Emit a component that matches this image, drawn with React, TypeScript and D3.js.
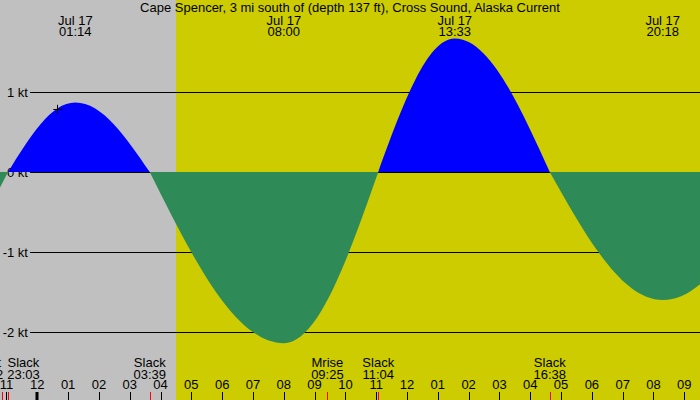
import React from "react";
import * as d3 from "d3";

const WIDTH = 700;
const HEIGHT = 400;
const FONT = "'Liberation Sans', Arial, sans-serif";

const title = "Cape Spencer, 3 mi south of (depth 137 ft), Cross Sound, Alaska Current";
const dateLabel = "Jul 17";

// Maximum flood (+) / ebb (-) currents, Jul 17
const maxTimes = ["01:14", "08:00", "13:33", "20:18"];
const maxKnots = [0.87, -2.14, 1.67, -1.6];

// Slack water times (day offset relative to Jul 17)
const slackTimes = ["23:03", "03:39", "11:04", "16:38"];
const slackDays = [-1, 0, 0, 0];

// Current at the window edges (hours from Jul 17 00:00)
const edgeHours = [-1.22, 24.08];
const edgeKnots = [-0.2, 0];

// Bottom event labels
const eventNames = ["Mset", "Slack", "Slack", "Mrise", "Slack", "Slack"];
const eventTimes = ["22:52", "23:03", "03:39", "09:25", "11:04", "16:38"];
const eventDays = [-1, -1, 0, 0, 0, 0];

const speedTicks = [1, 0, -1, -2];
const hourTicks = d3.range(-1, 22);
const sunriseTime = "04:30";
const markerTime = "00:39";
const markerKnots = 0.79;

const toHours = (s: string, day = 0) => {
  const [h, m] = s.split(":").map(Number);
  return h + m / 60 + day * 24;
};

const x = d3.scaleLinear().domain([0, 21]).range([37.3, 684.3]);
const y = d3.scaleLinear().domain([1, -2]).range([92, 332]);
const zeroY = y(0);

// Tidal-current curve: quarter-sine segments between slack and maximum,
// straight segment from the clipped window edge.
class TideCurve {
  _context: any;
  _line = 0;
  _point = 0;
  _x = 0;
  _y = 0;
  constructor(context: any) {
    this._context = context;
  }
  areaStart() {
    this._line = 0;
  }
  areaEnd() {
    this._line = NaN;
  }
  lineStart() {
    this._point = 0;
  }
  lineEnd() {
    if (this._line || (this._line !== 0 && this._point === 1)) this._context.closePath();
    this._line = 1 - this._line;
  }
  point(px: number, py: number) {
    px = +px;
    py = +py;
    if (this._point === 0) {
      this._point = 1;
      if (this._line) this._context.lineTo(px, py);
      else this._context.moveTo(px, py);
    } else {
      const x0 = this._x, y0 = this._y;
      const dx = px - x0, dy = py - y0;
      const startSlack = Math.abs(y0 - zeroY) < 0.01;
      const endSlack = Math.abs(py - zeroY) < 0.01;
      const fromEdge = this._point === 1;
      if (startSlack && !endSlack) {
        this._context.bezierCurveTo(x0 + 0.3261 * dx, y0 + 0.5123 * dy, x0 + 0.6381 * dx, py, px, py);
      } else if (!startSlack && endSlack && !fromEdge) {
        this._context.bezierCurveTo(x0 + 0.3619 * dx, y0, x0 + 0.6739 * dx, y0 + 0.4877 * dy, px, py);
      } else {
        this._context.lineTo(px, py);
      }
      this._point = 2;
    }
    this._x = px;
    this._y = py;
  }
}
const curveTide = (context: any) => new TideCurve(context);

type Pt = { h: number; v: number };
const points: Pt[] = [
  ...edgeHours.map((h, i) => ({ h, v: edgeKnots[i] })),
  ...slackTimes.map((t, i) => ({ h: toHours(t, slackDays[i]), v: 0 })),
  ...maxTimes.map((t, i) => ({ h: toHours(t), v: maxKnots[i] })),
].sort((a, b) => a.h - b.h);

const area = d3
  .area<Pt>()
  .x((d) => x(d.h))
  .y0(zeroY)
  .y1((d) => y(d.v))
  .curve(curveTide as any);

// Text measurement for the event label layout
const ctx = typeof document !== "undefined" ? document.createElement("canvas").getContext("2d") : null;
const textWidth = (s: string) => {
  if (!ctx) return s.length * 7;
  ctx.font = `13px ${FONT}`;
  return ctx.measureText(s).width;
};

const eventLayout = (() => {
  const items = eventNames.map((name, i) => {
    const h = toHours(eventTimes[i], eventDays[i]);
    const w = Math.max(textWidth(name), textWidth(eventTimes[i]));
    return { name, time: eventTimes[i], tick: x(h), cx: x(h), w };
  });
  // push overlapping neighbours apart symmetrically
  const gap = 4;
  for (let i = 0; i < items.length - 1; i++) {
    const a = items[i], b = items[i + 1];
    const overlap = a.cx + a.w / 2 + gap - (b.cx - b.w / 2);
    if (overlap > 0) {
      a.cx -= overlap / 2;
      b.cx += overlap / 2;
    }
  }
  return items;
})();

const hourLabel = (h: number) => {
  const hh = ((h % 12) + 12) % 12 || 12;
  return String(hh).padStart(2, "0");
};

export default function App() {
  const sunriseX = x(toHours(sunriseTime));
  const mx = x(toHours(markerTime));
  const my = y(markerKnots);
  const path = area(points) || "";
  return (
    <div style={{ position: "absolute", left: 0, top: 0 }}>
      <svg width={WIDTH} height={HEIGHT} style={{ display: "block", fontFamily: FONT }}>
        <defs>
          <clipPath id="flood">
            <rect x={0} y={0} width={WIDTH} height={zeroY} />
          </clipPath>
          <clipPath id="ebb">
            <rect x={0} y={zeroY} width={WIDTH} height={HEIGHT - zeroY} />
          </clipPath>
        </defs>
        <rect x={0} y={0} width={WIDTH} height={HEIGHT} fill="#cccc00" />
        <rect x={0} y={0} width={sunriseX} height={HEIGHT} fill="#c0c0c0" />

        {speedTicks.map((v) => (
          <g key={v}>
            <line x1={30} x2={WIDTH} y1={Math.round(y(v)) + 0.5} y2={Math.round(y(v)) + 0.5} stroke="#000" />
            <text x={28} y={y(v) + 4.5} fontSize={13} textAnchor="end" fill="#000">
              {`${v} kt`}
            </text>
          </g>
        ))}

        <path d={path} fill="#0000ff" clipPath="url(#flood)" />
        <path d={path} fill="#2e8b57" clipPath="url(#ebb)" />

        <g stroke="#000" strokeWidth={1}>
          <line x1={mx - 4} x2={mx + 5} y1={Math.round(my) + 0.5} y2={Math.round(my) + 0.5} />
          <line x1={Math.round(mx) + 0.5} x2={Math.round(mx) + 0.5} y1={my - 4} y2={my + 5} />
        </g>

        <text x={WIDTH / 2} y={12} fontSize={13} textAnchor="middle" fill="#000">
          {title}
        </text>
        {maxTimes.map((t) => (
          <g key={t} fontSize={13} textAnchor="middle" fill="#000">
            <text x={x(toHours(t))} y={24.5}>
              {dateLabel}
            </text>
            <text x={x(toHours(t))} y={36}>
              {t}
            </text>
          </g>
        ))}

        {eventLayout.map((e, i) => (
          <g key={i} fontSize={13} textAnchor="middle" fill="#000">
            <text x={e.cx} y={366.5}>
              {e.name}
            </text>
            <text x={e.cx} y={378.5}>
              {e.time}
            </text>
          </g>
        ))}

        {hourTicks.map((h) => (
          <g key={h}>
            <text x={x(h)} y={389} fontSize={13} textAnchor="middle" fill="#000">
              {hourLabel(h)}
            </text>
            <line
              x1={Math.round(x(h)) + (h % 24 === 0 ? 0 : 0.5)}
              x2={Math.round(x(h)) + (h % 24 === 0 ? 0 : 0.5)}
              y1={392}
              y2={HEIGHT}
              stroke="#000"
              strokeWidth={h % 24 === 0 ? 3 : 1}
            />
          </g>
        ))}
        {eventLayout.map((e, i) => (
          <line
            key={i}
            x1={Math.round(e.tick) + 0.5}
            x2={Math.round(e.tick) + 0.5}
            y1={392}
            y2={HEIGHT}
            stroke="#ff0000"
          />
        ))}
      </svg>
    </div>
  );
}
